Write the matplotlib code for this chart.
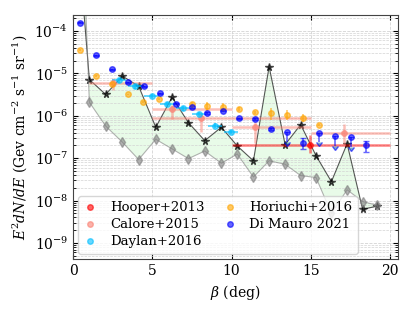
import numpy as np
import matplotlib
matplotlib.use('Agg')
import matplotlib.pyplot as plt

plt.rcParams['font.family'] = 'DejaVu Serif'
plt.rcParams['mathtext.fontset'] = 'dejavuserif'

# model curves (upper: stars, lower: diamonds)
beta_model = [0.5, 1.03, 2.06, 3.11, 4.14, 5.22, 6.25, 7.28, 8.31, 9.36, 10.36,
              11.38, 12.37, 13.38, 14.36, 15.33, 16.3, 17.29, 18.27, 19.16]
flux_upper = [2.0e-3, 7.2e-6, 3.2e-6, 8.7e-6, 5.0e-6, 5.4e-7, 2.75e-6, 6.9e-7,
              2.6e-7, 5.4e-7, 1.95e-7, 8.7e-8, 1.45e-5, 2.1e-7, 6.2e-7, 1.15e-7,
              2.8e-8, 2.2e-7, 6.2e-9, 7.4e-9]
flux_lower = [0.28, 2.1e-6, 5.75e-7, 2.4e-7, 9.3e-8, 2.8e-7, 1.66e-7, 9.8e-8,
              1.48e-7, 7.6e-8, 1.26e-7, 3.6e-8, 8.7e-8, 7.2e-8, 3.9e-8, 3.5e-8,
              5.0e-9, 1.8e-8, 9.5e-9, 7.8e-9]

# Hooper+2013
hoop_x = [14.95]
hoop_y = [2.04e-7]
hoop_xlo = [10.0]
hoop_xhi = [20.0]
hoop_ylo = [1.32e-7]
hoop_yhi = [3.55e-7]

# Calore+2015
cal_x = [2.5, 6.27, 8.06, 11.48, 17.12]
cal_y = [5.9e-6, 1.45e-6, 8.9e-7, 5.6e-7, 4.0e-7]
cal_xlo = [1.0, 5.0, 5.0, 10.0, 15.0]
cal_xhi = [5.0, 10.0, 15.0, 15.0, 20.0]
cal_ylo = [4.1e-6, 8.3e-7, 4.2e-7, 2.3e-7, 2.0e-7]
cal_yhi = [7.8e-6, 1.78e-6, 1.15e-6, 7.2e-7, 6.5e-7]

# Daylan+2016
day_x = [2.9, 3.9, 4.95, 5.95, 6.95, 7.95, 8.95, 9.95]
day_y = [6.9e-6, 5.0e-6, 2.95e-6, 1.9e-6, 1.5e-6, 1.12e-6, 5.9e-7, 4.2e-7]
day_xerr = 0.45
day_yrel = 0.12

# Horiuchi+2016
hor_x = [0.44, 1.45, 2.45, 3.49, 4.44, 5.43, 7.49, 8.43, 9.48, 10.47, 11.48,
         12.49, 13.48, 14.49, 15.52]
hor_y = [3.55e-5, 8.9e-6, 5.6e-6, 3.2e-6, 2.1e-6, 2.45e-6, 1.9e-6, 1.74e-6,
         1.62e-6, 1.45e-6, 1.2e-6, 1.15e-6, 1.07e-6, 9.1e-7, 6.0e-7]
hor_yrel = [0.05, 0.05, 0.05, 0.05, 0.05, 0.05, 0.12, 0.25, 0.25, 0.1, 0.1,
            0.3, 0.25, 0.2, 0.05]

# Di Mauro 2021
dm_x = [0.44, 1.45, 2.46, 3.49, 4.48, 5.49, 6.48, 7.49, 8.47, 9.48, 10.5, 11.48,
        12.49, 13.48, 14.49, 15.52, 16.53, 17.52, 18.5]
dm_y = [1.58e-4, 2.7e-5, 1.26e-5, 6.2e-6, 5.0e-6, 3.4e-6, 1.95e-6, 1.62e-6,
        1.17e-6, 1.32e-6, 8.7e-7, 8.3e-7, 5.0e-7, 4.1e-7, 2.3e-7, 4.0e-7,
        3.3e-7, 3.1e-7, 2.0e-7]
dm_yrel = [0.03, 0.03, 0.03, 0.03, 0.03, 0.03, 0.03, 0.03, 0.03, 0.03, 0.03,
           0.05, 0.05, 0.4, 0.28, 0.4, 0.4, 0.4, 0.3]
dm_uplim = [False] * 13 + [True, False, True, True, True, False]

fig, ax = plt.subplots(figsize=(4.15, 3.12), dpi=100)

ax.fill_between(beta_model, flux_lower, flux_upper, color='lightgreen', alpha=0.2, lw=0)
ax.plot(beta_model, flux_upper, '-*', color='black', alpha=0.65, lw=0.8, ms=5.5)
ax.plot(beta_model, flux_lower, '-d', color='grey', alpha=0.6, lw=0.8, ms=5)

def asym(y, lo, hi):
    y = np.array(y)
    return [y - np.array(lo), np.array(hi) - y]

hx = np.array(hoop_x)
ax.errorbar(hoop_x, hoop_y, xerr=[hx - hoop_xlo, np.array(hoop_xhi) - hx],
            yerr=asym(hoop_y, hoop_ylo, hoop_yhi), fmt='none',
            ecolor='red', alpha=0.5, elinewidth=1.8)
cx = np.array(cal_x)
ax.errorbar(cal_x, cal_y, xerr=[cx - cal_xlo, np.array(cal_xhi) - cx],
            yerr=asym(cal_y, cal_ylo, cal_yhi), fmt='none',
            ecolor='salmon', alpha=0.5, elinewidth=1.8)
dy = np.array(day_y)
ax.errorbar(day_x, day_y, xerr=day_xerr, yerr=dy * day_yrel, fmt='none',
            ecolor='deepskyblue', alpha=0.7, elinewidth=1.2)
hy = np.array(hor_y)
ax.errorbar(hor_x, hor_y, yerr=hy * np.array(hor_yrel), fmt='none',
            ecolor='orange', alpha=0.6, elinewidth=1.2)
my = np.array(dm_y)
ax.errorbar(dm_x, dm_y, yerr=my * np.array(dm_yrel), uplims=dm_uplim, fmt='none',
            ecolor='blue', alpha=0.6, elinewidth=1.2, capsize=2)

ax.plot(hoop_x, hoop_y, 'o', color='red', alpha=0.6, ms=4, label='Hooper+2013')
ax.plot(cal_x, cal_y, 'o', color='salmon', alpha=0.6, ms=4, label='Calore+2015')
ax.plot(day_x, day_y, 'o', color='deepskyblue', alpha=0.6, ms=4, label='Daylan+2016')
ax.plot(hor_x, hor_y, 'o', color='orange', alpha=0.6, ms=4, label='Horiuchi+2016')
ax.plot(dm_x, dm_y, 'o', color='blue', alpha=0.6, ms=4, label='Di Mauro 2021')

ax.set_yscale('log')
ax.set_xlim(0, 20.5)
ax.set_ylim(4.2e-10, 2.4e-4)
ax.set_xticks([0, 5, 10, 15, 20])
ax.set_yticks([1e-9, 1e-8, 1e-7, 1e-6, 1e-5, 1e-4])
ax.tick_params(which='both', direction='in', top=True, right=True, labelsize=10)
ax.grid(True, which='major', ls='--', color='lightgrey', lw=0.6)
ax.grid(True, which='minor', axis='y', ls='--', color='lightgrey', lw=0.5)
for s in ax.spines.values():
    s.set_color('#444444')

ax.set_xlabel(r'$\beta$ (deg)', fontsize=10)
ax.set_ylabel(r'$E^2dN/dE$ (Gev cm$^{-2}$ s$^{-1}$ sr$^{-1}$)', fontsize=10)
ax.legend(loc='lower left', ncol=2, fontsize=9.5, handlelength=1.0,
          handletextpad=1.0, columnspacing=1.4, labelspacing=0.3,
          borderaxespad=0.4)

plt.subplots_adjust(left=0.176, right=0.959, top=0.952, bottom=0.17)
plt.savefig('out.png')
